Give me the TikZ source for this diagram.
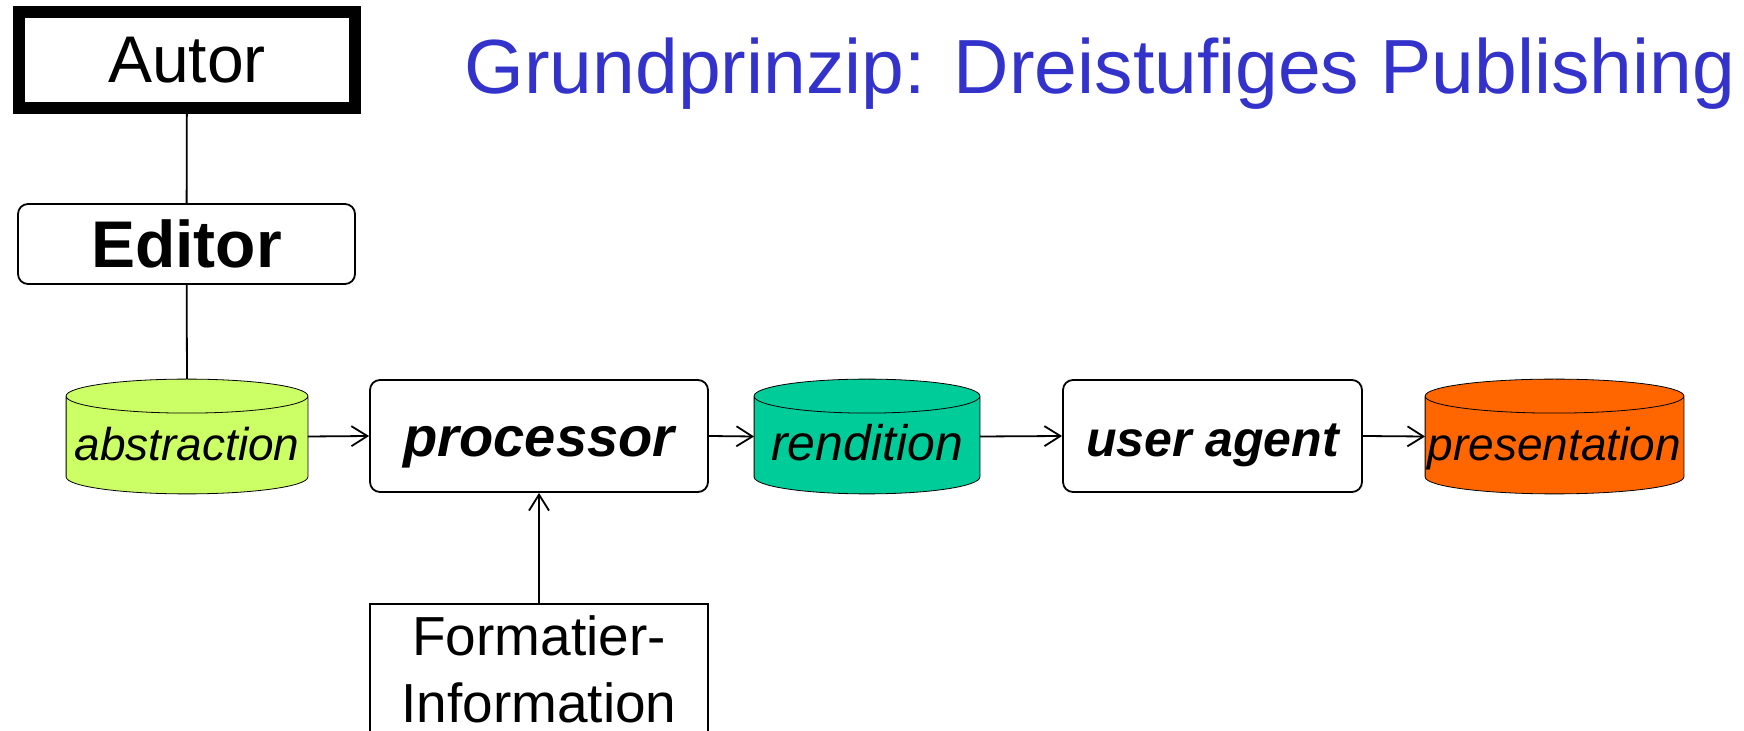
\documentclass[tikz,border=0pt]{standalone}
\usepackage{fontspec}
\setmainfont{Liberation Sans}
\usetikzlibrary{arrows.meta,positioning,calc,backgrounds}
\definecolor{titleblue}{RGB}{51,51,204}
\definecolor{absgreen}{RGB}{204,255,102}
\definecolor{rendgreen}{RGB}{0,204,153}
\definecolor{presorange}{RGB}{255,102,0}
\tikzset{stage/.style={rectangle, rounded corners=5pt, draw=black, fill=white, inner sep=0pt, minimum width=168.5pt, minimum height=56pt, text height=21pt, text depth=0pt, font=\fontsize{28}{34}\selectfont\bfseries\itshape},
drum/.style={rectangle, inner sep=0pt, minimum height=56.5pt, text height=24pt, text depth=0pt, font=\fontsize{23}{28}\selectfont\itshape}}
\newcommand{\drumbody}[2]{\draw[x=1pt,y=1pt,fill=#2] let \p1=(#1.north west), \p2=(#1.south east), \n1={(\x2-\x1)/2} in (\x1,\y1-8.5pt) -- (\x1,\y2+8.5pt) arc[start angle=180,end angle=360,x radius=\n1,y radius=8.5pt] -- (\x2,\y1-8.5pt) arc[start angle=0,end angle=180,x radius=\n1,y radius=8.5pt] -- cycle (\x1,\y1-8.5pt) arc[start angle=180,end angle=360,x radius=\n1,y radius=8.5pt];}

\begin{document}
\begin{tikzpicture}[x=0.5pt,y=-0.5pt,line width=0.9pt,>={Straight Barb[length=8pt,width=10pt]}]
		\useasboundingbox (0,0) rectangle (1744,731);
		\node[anchor=base west,text=titleblue,font=\fontsize{38.4}{46}\selectfont] (title) at (457,94) {Grundprinzip: Dreistufiges Publishing};
		\node[draw,line width=6pt,inner sep=0pt,minimum width=168pt,minimum height=48pt,font=\fontsize{33}{40}\selectfont] (autor) at (187,60) {Autor};
		\node[stage,minimum height=40pt,text height=,text depth=,font=\fontsize{33}{40}\selectfont\bfseries] (editor) at (186.5,244) {Editor};
		\node[drum,minimum width=120pt] (abst) at (187,436.5) {abstraction};
		\node[stage,minimum width=169pt] (proc) at (539,436) {processor};
		\node[drum,minimum width=112pt,font=\fontsize{25}{30}\selectfont\itshape] (rend) at (867,436.5) {rendition};
		\node[stage,minimum width=149.5pt,font=\fontsize{25}{30}\selectfont\bfseries\itshape] (agent) at (1212.5,436) {user agent};
		\node[drum,minimum width=128.5pt] (pres) at (1554.5,436.5) {presentation};
		\node[draw,inner sep=0pt,minimum width=169pt,minimum height=65pt,align=center,font=\fontsize{27.5}{33.5}\selectfont] (format) at (539,669) {Formatier-\\Information};
		\begin{scope}[on background layer]
		\drumbody{abst}{absgreen}
		\drumbody{rend}{rendgreen}
		\drumbody{pres}{presorange}
		\end{scope}
		\draw (autor) -- (editor);
		\draw (editor) -- (abst.north);
		\draw[->] (abst.east) -- (proc.west);
		\draw[->] (proc.east) -- (rend.west);
		\draw[->] (rend.east) -- (agent.west);
		\draw[->] (agent.east) -- (pres.west);
		\draw[->] (format.north) -- (proc.south);
\end{tikzpicture}
\end{document}
